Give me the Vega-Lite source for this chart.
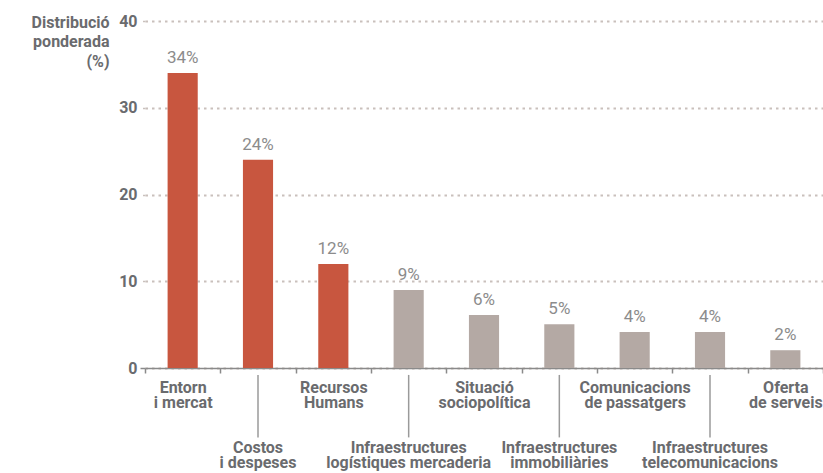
{
  "$schema": "https://vega.github.io/schema/vega-lite/v6.json",
  "width": 678,
  "height": 347,
  "autosize": "none",
  "padding": {"left": 145, "top": 21, "right": 0, "bottom": 105},
  "background": "white",
  "config": {"view": {"stroke": null}, "font": "Roboto"},
  "data": {
    "values": [
      {"cat": "Entorn|i mercat", "value": 34, "group": "a", "label": "34%"},
      {"cat": "Costos|i despeses", "value": 24, "group": "a", "label": "24%"},
      {"cat": "Recursos|Humans", "value": 12, "group": "a", "label": "12%"},
      {"cat": "Infraestructures|logístiques mercaderia", "value": 9, "group": "b", "label": "9%"},
      {"cat": "Situació|sociopolítica", "value": 6.1, "group": "b", "label": "6%"},
      {"cat": "Infraestructures|immobiliàries", "value": 5.05, "group": "b", "label": "5%"},
      {"cat": "Comunicacions|de passatgers", "value": 4.15, "group": "b", "label": "4%"},
      {"cat": "Infraestructures|telecomunicacions", "value": 4.15, "group": "b", "label": "4%"},
      {"cat": "Oferta|de serveis", "value": 2.05, "group": "b", "label": "2%"}
    ]
  },
  "encoding": {
    "x": {
      "field": "cat", "type": "nominal", "sort": null,
      "scale": {"paddingInner": 0, "paddingOuter": 0},
      "axis": {
        "orient": "bottom", "title": null, "labelAngle": 0,
        "labelExpr": "(indexof(datum.label, 'Costos') === 0 || indexof(datum.label, 'Infraestructures') === 0) ? '' : split(datum.label, '|')",
        "tickBand": "extent", "tickSize": 5, "tickColor": "#8a8a8a", "tickWidth": 1.5,
        "domainColor": "#8a8a8a", "domainWidth": 1.5,
        "labelFont": "Roboto", "labelFontSize": 16, "labelFontWeight": "bold",
        "labelColor": "#6a6b6e", "labelLineHeight": 15.75, "labelBaseline": "top",
        "labelPadding": 6,
        "labelLimit": 0, "labelOverlap": false, "grid": false
      }
    }
  },
  "layer": [
    {
      "mark": {"type": "bar", "width": {"band": 0.4}},
      "encoding": {
        "y": {
          "field": "value", "type": "quantitative",
          "scale": {"domain": [0, 40], "nice": false},
          "axis": {
            "title": ["Distribució", "ponderada", "(%)"],
            "titleAngle": 0, "titleAlign": "right", "titleX": -36, "titleY": 6,
            "titleBaseline": "alphabetic", "titleFont": "Roboto", "titleFontSize": 16,
            "titleFontWeight": "bold", "titleColor": "#6a6b6e", "titleLineHeight": 19.5,
            "values": [0, 10, 20, 30, 40], "domain": false,
            "grid": true, "gridDash": [2.5, 4], "gridColor": "#c9c0bc", "gridWidth": 2,
            "tickSize": 5,
            "tickColor": {"condition": {"test": "datum.value === 0", "value": "#8a8a8a"}, "value": "#c9c0bc"},
            "tickDash": {"condition": {"test": "datum.value === 0", "value": [5, 0]}, "value": [2.5, 4]},
            "tickWidth": 1.5,
            "labelFont": "Roboto", "labelFontSize": 16, "labelFontWeight": "bold",
            "labelColor": "#6a6b6e", "labelPadding": 3
          }
        },
        "color": {
          "field": "group", "type": "nominal",
          "scale": {"domain": ["a", "b"], "range": ["#c8563f", "#b4a9a4"]},
          "legend": null
        }
      }
    },
    {
      "mark": {"type": "text", "dy": -10, "baseline": "alphabetic", "font": "Roboto", "fontSize": 17, "color": "#8c8c8c"},
      "encoding": {
        "y": {"field": "value", "type": "quantitative"},
        "text": {"field": "label"}
      }
    },
    {
      "transform": [{"filter": "indexof(datum.cat, 'Costos') === 0 || indexof(datum.cat, 'Infraestructures') === 0"}],
      "mark": {"type": "rule", "color": "#9a9a9a", "strokeWidth": 1.5},
      "encoding": {
        "y": {"datum": -0.8, "type": "quantitative"},
        "y2": {"datum": -8.0}
      }
    },
    {
      "transform": [{"filter": "indexof(datum.cat, 'Costos') === 0 || indexof(datum.cat, 'Infraestructures') === 0"}],
      "mark": {"type": "text", "baseline": "top", "align": "center", "lineBreak": "|", "lineHeight": 15, "font": "Roboto", "fontSize": 16, "fontWeight": "bold", "color": "#6a6b6e"},
      "encoding": {
        "y": {"datum": -8.35, "type": "quantitative"},
        "text": {"field": "cat"}
      }
    }
  ]
}
